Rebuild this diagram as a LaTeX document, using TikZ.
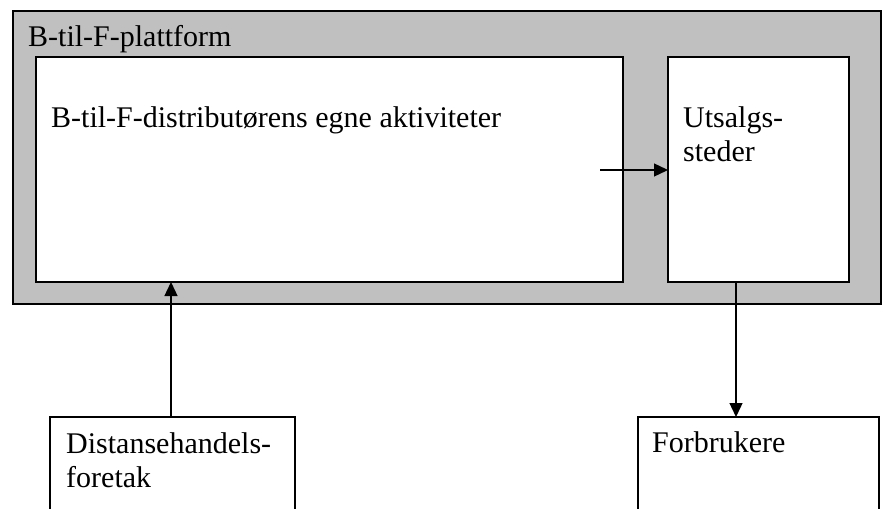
\documentclass[tikz,border=0pt]{standalone}
\usepackage{fontspec}
\setmainfont{Liberation Serif}
\usetikzlibrary{arrows.meta}
\definecolor{platgray}{HTML}{C0C0C0}
\tikzset{
  box/.style={draw=black, line width=1.3pt, fill=white, anchor=north west, inner sep=0pt, outer sep=0pt},
  lbl/.style={anchor=base west, inner sep=0pt, font=\fontsize{30}{34.5}\selectfont, align=left},
  conn/.style={line width=1.3pt, -{Triangle[length=14pt,width=13pt]}}
}
\begin{document}
\begin{tikzpicture}[x=1pt,y=-1pt]
\useasboundingbox (0,0) rectangle (882,508);
\clip (0,0) rectangle (882,508);
\node[box, fill=platgray, minimum width=868pt, minimum height=293pt] (plat) at (13,11) {};
\node[box, minimum width=587pt, minimum height=225pt] (egne) at (36,57) {};
\node[box, minimum width=181pt, minimum height=225pt] (utsalg) at (668,57) {};
\node[box, minimum width=245pt, minimum height=120pt] (dist) at (50,417) {};
\node[box, minimum width=241pt, minimum height=120pt] (forb) at (638,417) {};
\node[lbl] (platlbl) at (28,47) {B-til-F-plattform};
\node[lbl] (egnelbl) at (51,127) {B-til-F-distributørens egne aktiviteter};
\node[lbl] (utsalglbl) at (683,161.5) {Utsalgs-\\steder};
\node[lbl] (forblbl) at (652,452) {Forbrukere};
\node[lbl] (distlbl) at (66,487.5) {Distansehandels-\\foretak};
\coordinate (hstart) at (600,170);
\draw[conn] (hstart) -- (hstart -| utsalg.west);
\draw[conn] (dist.north -| 171,0) -- (egne.south -| 171,0);
\draw[conn] (utsalg.south -| 736,0) -- (forb.north -| 736,0);
\end{tikzpicture}
\end{document}
